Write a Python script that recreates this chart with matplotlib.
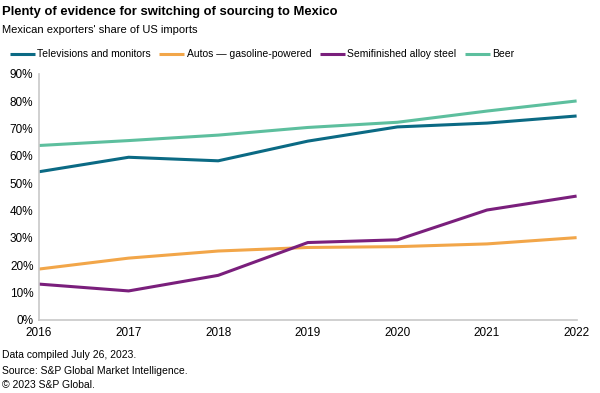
import matplotlib
matplotlib.use('Agg')
import matplotlib.pyplot as plt
from matplotlib.ticker import FuncFormatter

plt.rcParams['font.family'] = ['Liberation Sans', 'DejaVu Sans']

# Données
years = [2016, 2017, 2018, 2019, 2020, 2021, 2022]
tv = [54.2, 59.5, 58.2, 65.4, 70.6, 72.0, 74.6]
autos = [18.6, 22.6, 25.2, 26.5, 26.8, 27.8, 30.1]
steel = [13.1, 10.6, 16.3, 28.3, 29.3, 40.2, 45.3]
beer = [63.8, 65.6, 67.6, 70.4, 72.3, 76.4, 80.1]

series = [
    ('Televisions and monitors', tv, '#0B6A84'),
    ('Autos \u2014 gasoline-powered', autos, '#F2A649'),
    ('Semifinished alloy steel', steel, '#7A1F7C'),
    ('Beer', beer, '#5DBF9E'),
]

fig = plt.figure(figsize=(6, 3.93), dpi=100)
ax = fig.add_axes([0.065, 0.186, 0.896, 0.626])

for label, vals, col in series:
    ax.plot(years, vals, color=col, lw=2.2, label=label, solid_capstyle='butt')

ax.set_xlim(2016, 2022)
ax.set_ylim(0, 90)
ax.set_yticks(range(0, 91, 10))
ax.yaxis.set_major_formatter(FuncFormatter(lambda v, p: '%d%%' % v))
ax.set_xticks(years)
ax.tick_params(length=0, labelsize=8.5, colors='black')
ax.tick_params(axis='x', pad=5)
ax.tick_params(axis='y', pad=4)
for s in ['top', 'right']:
    ax.spines[s].set_visible(False)
for s in ['left', 'bottom']:
    ax.spines[s].set_color('#C8C8C8')
    ax.spines[s].set_linewidth(1.2)

fig.text(0.004, 0.970, 'Plenty of evidence for switching of sourcing to Mexico',
         fontsize=9.4, fontweight='bold', va='center')
fig.text(0.004, 0.923, "Mexican exporters' share of US imports", fontsize=8, va='center')

fig.legend(loc='center left', bbox_to_anchor=(0.016, 0.862), ncol=4, frameon=False,
           fontsize=7.5, handlelength=2.4, handletextpad=0.25, columnspacing=0.8,
           borderaxespad=0, borderpad=0)

fig.text(0.004, 0.097, 'Data compiled July 26, 2023.', fontsize=7.5, va='center')
fig.text(0.004, 0.056, 'Source: S&P Global Market Intelligence.', fontsize=7.5, va='center')
fig.text(0.004, 0.020, '\u00a9 2023 S&P Global.', fontsize=7.5, va='center')

fig.savefig('out.png', dpi=100)
